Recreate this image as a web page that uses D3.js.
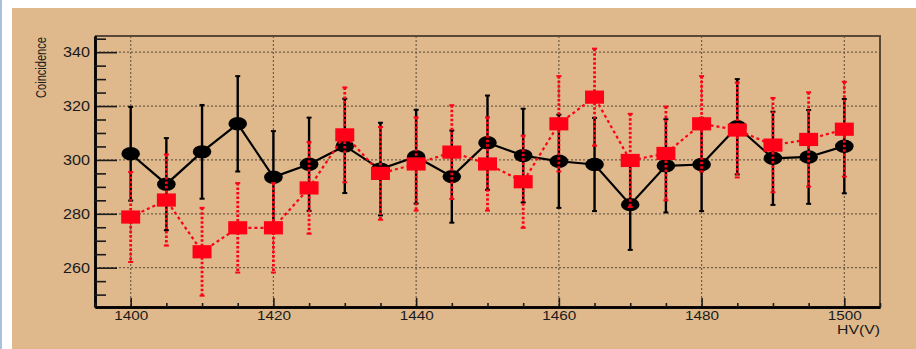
<!DOCTYPE html>
<html>
<head>
<meta charset="utf-8">
<script src="https://cdn.jsdelivr.net/npm/d3@7"></script>
<style>
  html, body { margin: 0; padding: 0; background: #ffffff; }
  svg { display: block; }
</style>
</head>
<body>
<svg id="chart" width="916" height="349"></svg>
<script>
// ---- data ----
const hv = [1400,1405,1410,1415,1420,1425,1430,1435,1440,1445,1450,1455,1460,1465,1470,1475,1480,1485,1490,1495,1500];
const blackValues = [302.3,291.0,303.0,313.4,293.6,298.4,305.2,296.6,301.2,293.8,306.4,301.6,299.5,298.3,283.4,297.8,298.3,312.3,300.6,301.1,305.1];
const blackErrors = [17.4,17.1,17.4,17.7,17.1,17.3,17.5,17.2,17.4,17.1,17.5,17.4,17.3,17.3,16.8,17.3,17.3,17.7,17.3,17.4,17.5];
const redValues = [278.8,285.1,265.9,274.8,274.8,289.6,309.3,295.0,298.5,302.9,298.5,291.9,313.4,323.3,299.8,302.4,313.4,311.1,305.5,307.6,311.4];
const redErrors = [16.7,16.9,16.3,16.6,16.6,17.0,17.6,17.2,17.3,17.4,17.3,17.1,17.7,18.0,17.3,17.4,17.7,17.6,17.5,17.5,17.6];
const xMajorTicks = [1400,1420,1440,1460,1480,1500];
const xMinorTicks = [1395,1405,1410,1415,1425,1430,1435,1445,1450,1455,1465,1470,1475,1485,1490,1495,1505];
const yMajorTicks = [260,280,300,320,340];
const yMinorTicks = [250,255,265,270,275,285,290,295,305,310,315,325,330,335,345];
const xTitle = "HV(V)";
const yTitle = "Coincidence";

// ---- layout ----
const W = 916, H = 349;
const plot = {left: 95, right: 880, top: 36, bottom: 307};
const svg = d3.select("#chart");

// page chrome: white top strip, left strip with blue line
svg.append("rect").attr("x",0).attr("y",0).attr("width",W).attr("height",H).attr("fill","#ffffff");
svg.append("rect").attr("x",0).attr("y",0).attr("width",2).attr("height",H).attr("fill","#a9bfe0");
svg.append("rect").attr("x",12).attr("y",8).attr("width",W-12).attr("height",H-8).attr("fill","#dfb98c");

const x = d3.scaleLinear().domain([1395,1505]).range([plot.left, plot.right]);
const y = d3.scaleLinear().domain([245.4,346]).range([plot.bottom, plot.top]);

// grid
const gridColor = "#6e5c48";
svg.append("g").selectAll("line").data(yMajorTicks).join("line")
  .attr("x1", plot.left).attr("x2", plot.right)
  .attr("y1", d => y(d)).attr("y2", d => y(d))
  .attr("stroke", gridColor).attr("stroke-width", 1.2).attr("stroke-dasharray", "2,2");
svg.append("g").selectAll("line").data(xMajorTicks).join("line")
  .attr("x1", d => x(d)).attr("x2", d => x(d))
  .attr("y1", plot.top).attr("y2", plot.bottom)
  .attr("stroke", gridColor).attr("stroke-width", 1.2).attr("stroke-dasharray", "2,2");

// frame top/right
svg.append("path")
  .attr("d", `M${plot.left},${plot.top}H${plot.right}V${plot.bottom}`)
  .attr("fill","none").attr("stroke","#5a4836").attr("stroke-width",2);

// axes
const fontFam = "'Liberation Sans', Arial, Helvetica, sans-serif";
const yAxis = d3.axisLeft(y).tickValues(yMajorTicks).tickSizeInner(-22).tickSizeOuter(0).tickPadding(5).tickFormat(d3.format("d"));
const yMinor = d3.axisLeft(y).tickValues(yMinorTicks).tickSizeInner(-11).tickSizeOuter(0).tickFormat("");
const xAxis = d3.axisBottom(x).tickValues(xMajorTicks).tickSizeInner(-9).tickSizeOuter(0).tickPadding(3).tickFormat(d3.format("d"));
const xMinor = d3.axisBottom(x).tickValues(xMinorTicks).tickSizeInner(-4).tickSizeOuter(0).tickFormat("");

function styleAxis(g) {
  g.selectAll(".domain").attr("stroke","#000").attr("stroke-width",2.5);
  g.selectAll(".tick line").attr("stroke","#1a1a1a").attr("stroke-width",1.6);
  g.selectAll("text").attr("font-family", fontFam).attr("font-size", 14).attr("fill","#1a1a1a");
}
const gy = svg.append("g").attr("transform", `translate(${plot.left},0)`).call(yAxis).call(styleAxis);
svg.append("g").attr("transform", `translate(${plot.left},0)`).call(yMinor).call(styleAxis);
const gx = svg.append("g").attr("transform", `translate(0,${plot.bottom})`).call(xAxis).call(styleAxis);
svg.append("g").attr("transform", `translate(0,${plot.bottom})`).call(xMinor).call(styleAxis);
gy.selectAll("text").attr("textLength", 27).attr("lengthAdjust","spacingAndGlyphs");
gx.selectAll("text").attr("font-size", 13).attr("y", 3.5).attr("dy", "0.735em")
  .attr("textLength", 34).attr("lengthAdjust","spacingAndGlyphs");

// titles
svg.append("text").text(xTitle)
  .attr("x", 880).attr("y", 334).attr("text-anchor","end")
  .attr("font-family", fontFam).attr("font-size", 12).attr("fill","#1a1a1a")
  .attr("textLength", 43).attr("lengthAdjust","spacingAndGlyphs");
svg.append("text").text(yTitle)
  .attr("transform", "translate(45.5,37) rotate(-90)").attr("text-anchor","end")
  .attr("font-family", fontFam).attr("font-size", 14).attr("fill","#1a1a1a")
  .attr("textLength", 61).attr("lengthAdjust","spacingAndGlyphs");

// data series
function drawSeries(values, errors, color, dashed, marker) {
  const g = svg.append("g");
  const pts = hv.map((h, i) => ({h, v: values[i], e: errors[i]}));
  const dash = dashed ? "2.5,2" : null;
  // error bars
  g.selectAll("line.err").data(pts).join("line").attr("class","err")
    .attr("x1", d => x(d.h)).attr("x2", d => x(d.h))
    .attr("y1", d => y(d.v + d.e)).attr("y2", d => y(d.v - d.e))
    .attr("stroke", color).attr("stroke-width", dashed ? 2.8 : 2.4)
    .attr("stroke-dasharray", dash);
  ["top","bot"].forEach(k => {
    g.selectAll("line.cap" + k).data(pts).join("line").attr("class","cap" + k)
      .attr("x1", d => x(d.h) - 2.5).attr("x2", d => x(d.h) + 2.5)
      .attr("y1", d => y(k === "top" ? d.v + d.e : d.v - d.e))
      .attr("y2", d => y(k === "top" ? d.v + d.e : d.v - d.e))
      .attr("stroke", color).attr("stroke-width", 2);
  });
  // line
  const line = d3.line().x(d => x(d.h)).y(d => y(d.v));
  g.append("path").datum(pts).attr("d", line).attr("fill","none")
    .attr("stroke", color).attr("stroke-width", 2.2).attr("stroke-dasharray", dashed ? "3,3" : null);
  // markers
  if (marker === "circle") {
    g.selectAll("ellipse").data(pts).join("ellipse")
      .attr("cx", d => x(d.h)).attr("cy", d => y(d.v))
      .attr("rx", 9.3).attr("ry", 6.7).attr("fill", color);
  } else {
    g.selectAll("rect").data(pts).join("rect")
      .attr("x", d => x(d.h) - 9.5).attr("y", d => y(d.v) - 6.6)
      .attr("width", 19).attr("height", 13.2).attr("fill", color);
  }
}
drawSeries(blackValues, blackErrors, "#000000", false, "circle");
drawSeries(redValues, redErrors, "#ff0016", true, "square");
</script>
</body>
</html>
